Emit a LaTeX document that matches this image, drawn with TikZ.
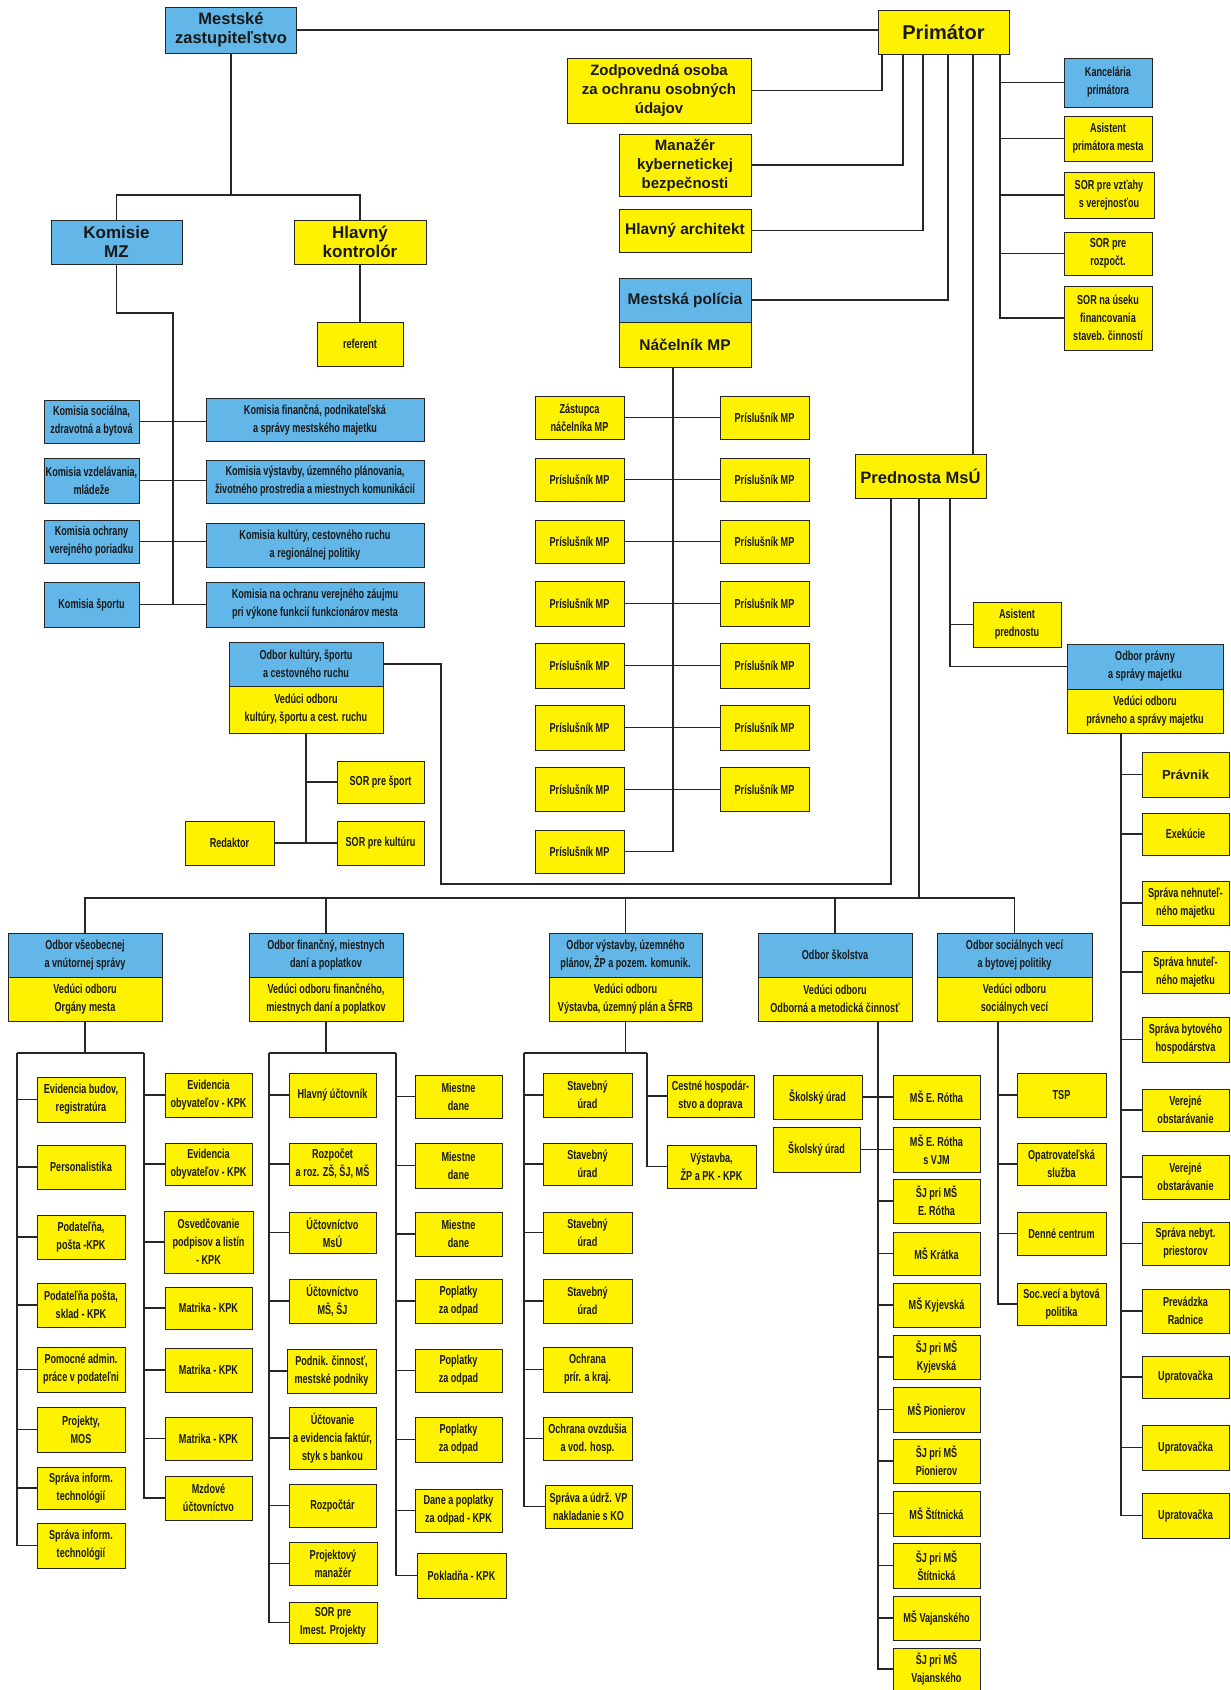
\documentclass[tikz,border=0pt]{standalone}
\usepackage{fontspec}
\setmainfont{Liberation Sans}
\newfontfamily\narrowfont[FakeStretch=0.7]{Liberation Sans}
\newcommand\boxfont{\narrowfont\bfseries\fontsize{13}{18}\selectfont}
\definecolor{orgblue}{RGB}{98,182,232}
\definecolor{orgyellow}{RGB}{255,242,0}
\tikzset{
  box/.style={draw=black!85, line width=1pt, inner sep=1pt, align=center, text=black!90, font=\boxfont},
  ybox/.style={box, fill=orgyellow},
  bbox/.style={box, fill=orgblue},
  wh/.style 2 args={minimum width=#1, minimum height=#2},
  titlebox/.style={font=\bfseries\fontsize{#1}{19}\selectfont},
  wire/.style={draw=black!85, line width=1.3pt}
}
\begin{document}
\begin{tikzpicture}[x=1pt,y=-1pt]
            \useasboundingbox (0,0) rectangle (1231,1690);
            % nodes
            \node (ms) [bbox, wh={131}{46}, titlebox=16.5] at (231,30) {Mestské\\zastupiteľstvo};
            \node (prim) [ybox, wh={131}{44}, titlebox=20] at (943.5,32) {Primátor};
            \node (zodp) [ybox, wh={184}{65}, titlebox=15] at (659,90.5) {Zodpovedná osoba\\za ochranu osobných\\údajov};
            \node (kyb) [ybox, wh={132}{62}, titlebox=15] at (685,165) {Manažér\\kybernetickej\\bezpečnosti};
            \node (arch) [ybox, wh={132}{43}, titlebox=15.5] at (685,230.5) {Hlavný architekt};
            \node (pol) [bbox, wh={132}{44}, titlebox=15.5] at (685,300) {Mestská polícia};
            \node (nac) [ybox, wh={132}{45}, titlebox=15.5] at (685,344.5) {Náčelník MP};
            \node (kanc) [bbox, wh={88}{49}] at (1108,82.5) {Kancelária\\primátora};
            \node (asp) [ybox, wh={88}{45}] at (1108,138.5) {Asistent\\primátora mesta};
            \node (sorv) [ybox, wh={90}{46}] at (1109,195) {SOR pre vzťahy\\s verejnosťou};
            \node (sorr) [ybox, wh={88}{43}] at (1108,253.5) {SOR pre\\rozpočt.};
            \node (sorf) [ybox, wh={88}{64}] at (1108,318) {SOR na úseku\\financovania\\staveb. činností};
            \node (kom) [bbox, wh={131}{44}, titlebox=17] at (116.5,242) {Komisie\\MZ};
            \node (kontr) [ybox, wh={132}{44}, titlebox=17] at (360,242) {Hlavný\\kontrolór};
            \node (ref) [ybox, wh={86}{44}] at (360,344) {referent};
            % komisie
            \node (k1) [bbox, wh={95}{43}] at (91.5,421.5) {Komisia sociálna,\\zdravotná a bytová};
            \node (k2) [bbox, wh={95}{45}] at (91.5,480.5) {Komisia vzdelávania,\\mládeže};
            \node (k3) [bbox, wh={95}{43}] at (91.5,541.5) {Komisia ochrany\\verejného poriadku};
            \node (k4) [bbox, wh={95}{45}] at (91.5,604.5) {Komisia športu};
            \node (k5) [bbox, wh={218}{43}] at (315,420) {Komisia finančná, podnikateľská\\a správy mestského majetku};
            \node (k6) [bbox, wh={218}{43}] at (315,481.5) {Komisia výstavby, územného plánovania,\\životného prostredia a miestnych komunikácií};
            \node (k7) [bbox, wh={218}{44}] at (315,545) {Komisia kultúry, cestovného ruchu\\a regionálnej politiky};
            \node (k8) [bbox, wh={218}{45}] at (315,604.5) {Komisia na ochranu verejného záujmu\\pri výkone funkcií funkcionárov mesta};
            \node (okb) [bbox, wh={154}{44}] at (306,664) {Odbor kultúry, športu\\a cestovného ruchu};
            \node (okv) [ybox, wh={154}{47}] at (306,709.5) {Vedúci odboru\\kultúry, športu a cest. ruchu};
            \node (sport) [ybox, wh={87}{42}] at (380.5,782) {SOR pre šport};
            \node (kult) [ybox, wh={87}{44}] at (380.5,843) {SOR pre kultúru};
            \node (red) [ybox, wh={89}{44}] at (229.5,843) {Redaktor};
            % mestska policia
            \node (mpl1) [ybox, wh={89}{43}] at (579.5,417.5) {Zástupca\\náčelníka MP};
            \node (mpl2) [ybox, wh={89}{43}] at (579.5,479.5) {Príslušník MP};
            \node (mpl3) [ybox, wh={89}{43}] at (579.5,541.5) {Príslušník MP};
            \node (mpl4) [ybox, wh={89}{45}] at (579.5,603.5) {Príslušník MP};
            \node (mpl5) [ybox, wh={89}{45}] at (579.5,665.5) {Príslušník MP};
            \node (mpl6) [ybox, wh={89}{45}] at (579.5,727.5) {Príslušník MP};
            \node (mpl7) [ybox, wh={89}{44}] at (579.5,789.5) {Príslušník MP};
            \node (mpl8) [ybox, wh={89}{43}] at (579.5,851.5) {Príslušník MP};
            \node (mpr1) [ybox, wh={89}{43}] at (764.5,417.5) {Príslušník MP};
            \node (mpr2) [ybox, wh={89}{43}] at (764.5,479.5) {Príslušník MP};
            \node (mpr3) [ybox, wh={89}{43}] at (764.5,541.5) {Príslušník MP};
            \node (mpr4) [ybox, wh={89}{45}] at (764.5,603.5) {Príslušník MP};
            \node (mpr5) [ybox, wh={89}{45}] at (764.5,665.5) {Príslušník MP};
            \node (mpr6) [ybox, wh={89}{45}] at (764.5,727.5) {Príslušník MP};
            \node (mpr7) [ybox, wh={89}{44}] at (764.5,789.5) {Príslušník MP};
            % prednosta
            \node (pred) [ybox, wh={131}{44}, titlebox=16.5] at (920.5,476) {Prednosta MsÚ};
            \node (apr) [ybox, wh={88}{45}] at (1017,624.5) {Asistent\\prednostu};
            \node (opb) [bbox, wh={156}{45}] at (1145,666.5) {Odbor právny\\a správy majetku};
            \node (opv) [ybox, wh={156}{44}] at (1145,711) {Vedúci odboru\\právneho a správy majetku};
            \node (pr1) [ybox, wh={87}{45}, titlebox=13] at (1185.5,774.5) {Právnik};
            \node (pr2) [ybox, wh={87}{42}] at (1185.5,834) {Exekúcie};
            \node (pr3) [ybox, wh={87}{44}] at (1185.5,903) {Správa nehnuteľ-\\ného majetku};
            \node (pr4) [ybox, wh={87}{42}] at (1185.5,972) {Správa hnuteľ-\\ného majetku};
            \node (pr5) [ybox, wh={87}{45}] at (1185.5,1039.5) {Správa bytového\\hospodárstva};
            \node (pr6) [ybox, wh={87}{42}] at (1185.5,1110) {Verejné\\obstarávanie};
            \node (pr7) [ybox, wh={87}{44}] at (1185.5,1177) {Verejné\\obstarávanie};
            \node (pr8) [ybox, wh={87}{43}] at (1185.5,1243.5) {Správa nebyt.\\priestorov};
            \node (pr9) [ybox, wh={87}{44}] at (1185.5,1311) {Prevádzka\\Radnice};
            \node (pr10) [ybox, wh={87}{42}] at (1185.5,1377) {Upratovačka};
            \node (pr11) [ybox, wh={87}{45}] at (1185.5,1447.5) {Upratovačka};
            \node (pr12) [ybox, wh={87}{45}] at (1185.5,1515.5) {Upratovačka};
            % odbory
            \node (ovsb) [bbox, wh={154}{44}] at (85,955) {Odbor všeobecnej\\a vnútornej správy};
            \node (ovsv) [ybox, wh={154}{44}] at (85,999) {Vedúci odboru\\Orgány mesta};
            \node (ofb) [bbox, wh={154}{44}] at (326,955) {Odbor finančný, miestnych\\daní a poplatkov};
            \node (ofv) [ybox, wh={154}{44}] at (326,999) {Vedúci odboru finančného,\\miestnych daní a poplatkov};
            \node (ovb) [bbox, wh={153}{44}] at (625.5,955) {Odbor výstavby, územného\\plánov, ŽP a pozem. komunik.};
            \node (ovv) [ybox, wh={153}{44}] at (625.5,999) {Vedúci odboru\\Výstavba, územný plán a ŠFRB};
            \node (oskb) [bbox, wh={154}{44}] at (835,955) {Odbor školstva};
            \node (oskv) [ybox, wh={154}{44}] at (835,999) {Vedúci odboru\\Odborná a metodická činnosť};
            \node (osb) [bbox, wh={155}{44}] at (1014.5,955) {Odbor sociálnych vecí\\a bytovej politiky};
            \node (osv) [ybox, wh={155}{44}] at (1014.5,999) {Vedúci odboru\\sociálnych vecí};
            % odbor vseobecnej
            \node (v1) [ybox, wh={88}{45}] at (81,1099.5) {Evidencia budov,\\registratúra};
            \node (v2) [ybox, wh={88}{44}] at (81,1167) {Personalistika};
            \node (v3) [ybox, wh={88}{44}] at (81,1237) {Podateľňa,\\pošta -KPK};
            \node (v4) [ybox, wh={88}{44}] at (81,1305) {Podateľňa pošta,\\sklad - KPK};
            \node (v5) [ybox, wh={88}{45}] at (81,1369.5) {Pomocné admin.\\práce v podateľni};
            \node (v6) [ybox, wh={88}{45}] at (81,1429.5) {Projekty,\\MOS};
            \node (v7) [ybox, wh={88}{42}] at (81,1488) {Správa inform.\\technológií};
            \node (v8) [ybox, wh={88}{45}] at (81,1545.5) {Správa inform.\\technológií};
            \node (w1) [ybox, wh={87}{44}] at (208.5,1095) {Evidencia\\obyvateľov - KPK};
            \node (w2) [ybox, wh={87}{42}] at (208.5,1164) {Evidencia\\obyvateľov - KPK};
            \node (w3) [ybox, wh={89}{62}] at (208.5,1242) {Osvedčovanie\\podpisov a listín\\- KPK};
            \node (w4) [ybox, wh={87}{42}] at (208.5,1308) {Matrika - KPK};
            \node (w5) [ybox, wh={87}{44}] at (208.5,1370) {Matrika - KPK};
            \node (w6) [ybox, wh={87}{43}] at (208.5,1438.5) {Matrika - KPK};
            \node (w7) [ybox, wh={87}{44}] at (208.5,1498) {Mzdové\\účtovníctvo};
            % odbor financny
            \node (f1) [ybox, wh={87}{44}] at (332.5,1095) {Hlavný účtovník};
            \node (f2) [ybox, wh={87}{42}] at (332.5,1164) {Rozpočet\\a roz. ZŠ, ŠJ, MŠ};
            \node (f3) [ybox, wh={87}{41}] at (332.5,1232.5) {Účtovníctvo\\MsÚ};
            \node (f4) [ybox, wh={87}{44}] at (332.5,1301) {Účtovníctvo\\MŠ, ŠJ};
            \node (f5) [ybox, wh={89}{44}] at (331.5,1371) {Podnik. činnosť,\\mestské podniky};
            \node (f6) [ybox, wh={87}{62}] at (332.5,1438) {Účtovanie\\a evidencia faktúr,\\styk s bankou};
            \node (f7) [ybox, wh={87}{43}] at (332.5,1505.5) {Rozpočtár};
            \node (f8) [ybox, wh={88}{43}] at (333,1563.5) {Projektový\\manažér};
            \node (f9) [ybox, wh={88}{41}] at (333,1622.5) {SOR pre\\Imest. Projekty};
            \node (g1) [ybox, wh={87}{43}] at (458.5,1096.5) {Miestne\\dane};
            \node (g2) [ybox, wh={87}{45}] at (458.5,1165.5) {Miestne\\dane};
            \node (g3) [ybox, wh={87}{44}] at (458.5,1234) {Miestne\\dane};
            \node (g4) [ybox, wh={87}{44}] at (458.5,1301) {Poplatky\\za odpad};
            \node (g5) [ybox, wh={87}{43}] at (458.5,1370.5) {Poplatky\\za odpad};
            \node (g6) [ybox, wh={87}{45}] at (458.5,1439.5) {Poplatky\\za odpad};
            \node (g7) [ybox, wh={87}{43}] at (458.5,1510.5) {Dane a poplatky\\za odpad - KPK};
            \node (g8) [ybox, wh={89}{45}] at (461.5,1575.5) {Pokladňa - KPK};
            % odbor vystavby
            \node (s1) [ybox, wh={89}{44}] at (587.5,1095) {Stavebný\\úrad};
            \node (s2) [ybox, wh={89}{42}] at (587.5,1164) {Stavebný\\úrad};
            \node (s3) [ybox, wh={89}{41}] at (587.5,1232.5) {Stavebný\\úrad};
            \node (s4) [ybox, wh={89}{44}] at (587.5,1301) {Stavebný\\úrad};
            \node (s5) [ybox, wh={89}{45}] at (587.5,1369.5) {Ochrana\\prír. a kraj.};
            \node (s6) [ybox, wh={89}{43}] at (587.5,1438.5) {Ochrana ovzdušia\\a vod. hosp.};
            \node (s7) [ybox, wh={87}{43}] at (588.5,1506.5) {Správa a údrž. VP\\nakladanie s KO};
            \node (t1) [ybox, wh={87}{42}] at (710.5,1096) {Cestné hospodár-\\stvo a doprava};
            \node (t2) [ybox, wh={89}{43}] at (711.5,1166.5) {Výstavba,\\ŽP a PK - KPK};
            % odbor skolstva
            \node (sk1) [ybox, wh={89}{44}] at (817.5,1097) {Školský úrad};
            \node (sk2) [ybox, wh={87}{45}] at (816.5,1149.5) {Školský úrad};
            \node (m1) [ybox, wh={87}{44}] at (936.5,1097) {MŠ E. Rótha};
            \node (m2) [ybox, wh={87}{45}] at (936.5,1149.5) {MŠ E. Rótha\\s VJM};
            \node (m3) [ybox, wh={87}{44}] at (936.5,1201) {ŠJ pri MŠ\\E. Rótha};
            \node (m4) [ybox, wh={87}{43}] at (936.5,1253.5) {MŠ Krátka};
            \node (m5) [ybox, wh={87}{44}] at (936.5,1305) {MŠ Kyjevská};
            \node (m6) [ybox, wh={87}{44}] at (936.5,1357) {ŠJ pri MŠ\\Kyjevská};
            \node (m7) [ybox, wh={87}{45}] at (936.5,1409.5) {MŠ Pionierov};
            \node (m8) [ybox, wh={87}{44}] at (936.5,1461) {ŠJ pri MŠ\\Pionierov};
            \node (m9) [ybox, wh={87}{45}] at (936.5,1513.5) {MŠ Štítnická};
            \node (m10) [ybox, wh={87}{45}] at (936.5,1565.5) {ŠJ pri MŠ\\Štítnická};
            \node (m11) [ybox, wh={87}{44}] at (936.5,1618) {MŠ Vajanského};
            \node (m12) [ybox, wh={87}{42}] at (936.5,1669) {ŠJ pri MŠ\\Vajanského};
            % odbor socialnych veci
            \node (c1) [ybox, wh={89}{44}] at (1061.5,1095) {TSP};
            \node (c2) [ybox, wh={89}{42}] at (1061.5,1164) {Opatrovateľská\\služba};
            \node (c3) [ybox, wh={89}{43}] at (1061.5,1233.5) {Denné centrum};
            \node (c4) [ybox, wh={89}{42}] at (1061.5,1304) {Soc.vecí a bytová\\politika};
            % junctions
            \coordinate (msj) at (231,195);
            \coordinate (kj) at (173,313);
            \coordinate (p1) at (882,54);
            \coordinate (p2) at (903,54);
            \coordinate (p3) at (923,54);
            \coordinate (p4) at (948,54);
            \coordinate (p5) at (973,54);
            \coordinate (p6) at (1000,54);
            \coordinate (mpt) at (673,367);
            \coordinate (pk) at (891,498);
            \coordinate (pk2) at (441,884);
            \coordinate (pb) at (919,498);
            \coordinate (bus) at (919,898);
            \coordinate (pa) at (950,498);
            \coordinate (ps) at (1121,733);
            \coordinate (vsL) at (17,1053);
            \coordinate (vsR) at (144,1053);
            \coordinate (fL) at (269,1053);
            \coordinate (fR) at (396,1053);
            \coordinate (sL) at (524,1053);
            \coordinate (sR) at (647,1053);
            \coordinate (skT) at (878,1021);
            \coordinate (scT) at (998,1021);
            % lines
            \draw[wire] (ms.east) -- (ms.east -| prim.west);
            \draw[wire] (ms.south) -- (msj) (kom.north) |- (msj) -| (kontr.north) (kontr.south) -- (ref.north);
            \draw[wire] (kom.south) |- (kj) -- (kj |- k4.east);
            \draw[wire] (k1.east) -- (k1.east -| k5.west) (k2.east) -- (k2.east -| k6.west) (k3.east) -- (k3.east -| k7.west) (k4.east) -- (k8.west);
            \draw[wire] (zodp.east) -| (p1) (kyb.east) -| (p2) (arch.east) -| (p3) (pol.east) -| (p4) (p5) -- (p5 |- pred.north);
            \draw[wire] (p6) |- (kanc.west) (p6) |- (asp.west) (p6) |- (sorv.west) (p6) |- (sorr.west) (p6) |- (sorf.west);
            \draw[wire] (mpt) |- (mpl8.east) (mpl1.east) -- (mpr1.west) (mpl2.east) -- (mpr2.west) (mpl3.east) -- (mpr3.west) (mpl4.east) -- (mpr4.west) (mpl5.east) -- (mpr5.west) (mpl6.east) -- (mpr6.west) (mpl7.east) -- (mpr7.west);
            \draw[wire] (okv.south) |- (sport.west) (okv.south) |- (kult.west) (red.east) -- (kult.west);
            \draw[wire] (pk) |- (pk2) |- (okb.east);
            \draw[wire] (pa) |- (apr.west) (pa) |- (opb.west);
            \draw[wire] (pb) -- (bus) (ovsb.north) |- (bus) -| (osb.north) (ofb.north) -- (ofb.north |- bus) (ovb.north) -- (ovb.north |- bus) (oskb.north) -- (oskb.north |- bus);
            \draw[wire] (ps) |- (pr1.west) (ps) |- (pr2.west) (ps) |- (pr3.west) (ps) |- (pr4.west) (ps) |- (pr5.west) (ps) |- (pr6.west) (ps) |- (pr7.west) (ps) |- (pr8.west) (ps) |- (pr9.west) (ps) |- (pr10.west) (ps) |- (pr11.west) (ps) |- (pr12.west);
            \draw[wire] (ovsv.south) -- (ovsv.south |- vsL) (vsL) -- (vsR);
            \draw[wire] (vsL) |- (v1.west) (vsL) |- (v2.west) (vsL) |- (v3.west) (vsL) |- (v4.west) (vsL) |- (v5.west) (vsL) |- (v6.west) (vsL) |- (v7.west) (vsL) |- (v8.west);
            \draw[wire] (vsR) |- (w1.west) (vsR) |- (w2.west) (vsR) |- (w3.west) (vsR) |- (w4.west) (vsR) |- (w5.west) (vsR) |- (w6.west) (vsR) |- (w7.west);
            \draw[wire] (ofv.south) -- (ofv.south |- fL) (fL) -- (fR);
            \draw[wire] (fL) |- (f1.west) (fL) |- (f2.west) (fL) |- (f3.west) (fL) |- (f4.west) (fL) |- (f5.west) (fL) |- (f6.west) (fL) |- (f7.west) (fL) |- (f8.west) (fL) |- (f9.west);
            \draw[wire] (fR) |- (g1.west) (fR) |- (g2.west) (fR) |- (g3.west) (fR) |- (g4.west) (fR) |- (g5.west) (fR) |- (g6.west) (fR) |- (g7.west) (fR) |- (g8.west);
            \draw[wire] (ovv.south) -- (ovv.south |- sL) (sL) -- (sR);
            \draw[wire] (sL) |- (s1.west) (sL) |- (s2.west) (sL) |- (s3.west) (sL) |- (s4.west) (sL) |- (s5.west) (sL) |- (s6.west) (sL) |- (s7.west) (sR) |- (t1.west) (sR) |- (t2.west);
            \draw[wire] (skT) |- (m1.west) (skT) |- (m2.west) (skT) |- (m3.west) (skT) |- (m4.west) (skT) |- (m5.west) (skT) |- (m6.west) (skT) |- (m7.west) (skT) |- (m8.west) (skT) |- (m9.west) (skT) |- (m10.west) (skT) |- (m11.west) (skT) |- (m12.west);
            \draw[wire] (sk1.east) -- (sk1.east -| skT) (sk2.east) -- (sk2.east -| skT);
            \draw[wire] (scT) |- (c1.west) (scT) |- (c2.west) (scT) |- (c3.west) (scT) |- (c4.west);
        \end{tikzpicture}
\end{document}
